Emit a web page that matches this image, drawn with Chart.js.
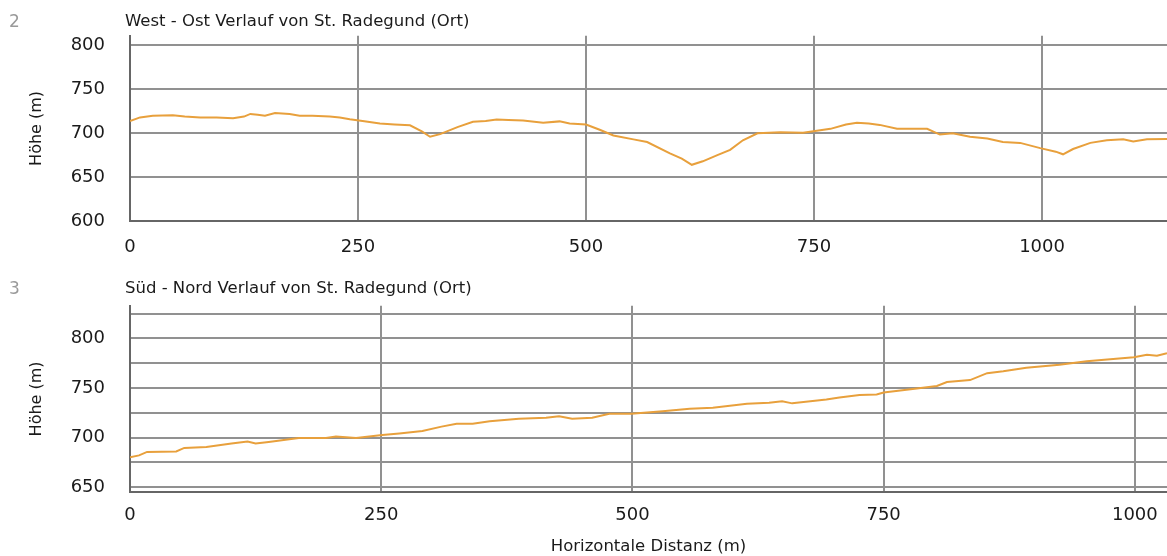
<!DOCTYPE html>
<html>
<head>
<meta charset="utf-8">
<script src="https://cdn.jsdelivr.net/npm/chart.js@4.4.1/dist/chart.umd.min.js"></script>
<style>
  body { margin: 0; background: #fff; font-family: "DejaVu Sans", sans-serif; }
  .box { position: absolute; left: 0; width: 1167px; }
  .num { position: absolute; left: 9px; font-size: 17px; color: #9a9a9a; }
  .ttl { position: absolute; left: 125px; font-size: 16.5px; color: #1a1a1a; }
</style>
</head>
<body>
<div class="box" style="top:0;height:270px">
  <canvas id="chart1" width="1167" height="270"></canvas>
</div>
<div class="box" style="top:270px;height:287px">
  <canvas id="chart2" width="1167" height="287"></canvas>
</div>
<div class="num" style="top:11px">2</div>
<div class="ttl" style="top:11px">West - Ost Verlauf von St. Radegund (Ort)</div>
<div class="num" style="top:278px">3</div>
<div class="ttl" style="top:278px">Süd - Nord Verlauf von St. Radegund (Ort)</div>

<script>
// x axis tick labels (m)
var xTicks = [0, 250, 500, 750, 1000];

// West - Ost profile (distance in m, height in m)
var westOstDist = [0, 11, 25, 47, 60, 77, 95, 113, 125, 132, 140, 148, 159, 175, 186, 200, 219, 230, 241, 255,
    274, 290, 307, 320, 329, 340, 359, 376, 390, 402, 415, 431, 453, 471, 482, 500, 515, 530, 552, 567,
    592, 605, 616, 628, 644, 658, 672, 688, 713, 738, 768, 785, 797, 810, 822, 841, 860, 874, 888, 902,
    921, 940, 957, 976, 998, 1015, 1023, 1034, 1053, 1071, 1089, 1100, 1115, 1137];
var westOstHeight = [714, 718, 720, 720.5, 719, 718, 718, 717, 719, 722, 721, 720, 723, 722, 720, 720, 719, 718, 716, 714,
    711, 710, 709, 702, 696, 699, 707, 713, 714, 715.5, 715, 714.5, 712, 713.5, 711, 710, 704, 697.5, 693, 690,
    677, 671, 664, 668, 675, 681, 692, 700, 701, 700.5, 705, 710, 712, 711, 709.5, 705, 705, 705, 698.5, 700,
    696, 694, 690, 689, 683, 679, 676, 682, 689, 692, 693, 690.5, 693, 693.5];

// Süd - Nord profile
var suedNordDist = [0, 9, 17, 46, 54, 76, 101, 117, 125, 138, 168, 195, 205, 225, 251, 268, 291, 310, 325, 341,
    358, 387, 414, 427, 440, 460, 477, 499, 530, 557, 580, 614, 636, 649, 659, 693, 706, 726, 743, 750,
    779, 803, 813, 836, 853, 869, 892, 925, 952, 999, 1012, 1022, 1032];
var suedNordHeight = [680, 682, 685.5, 686, 689.5, 690.5, 694, 696, 694, 695.5, 699.5, 699.5, 701, 699.5, 702.5, 704, 706.5, 711, 714, 714,
    716.5, 719, 720, 721.5, 719, 720, 724, 724, 726.5, 729, 730, 734, 735, 736.5, 734.5, 738.5, 740.5, 743, 743.5, 745.5,
    749, 752, 756, 758, 765, 767, 770.5, 773.5, 777, 781, 783.5, 782.5, 785];

var lineColor = '#E8A03C';
var gridColor = '#919191';
var axisColor = '#666';
var textColor = '#1a1a1a';
var fontFam = 'DejaVu Sans';

function toPoints(xs, ys) {
    return xs.map((x, i) => ({x: x, y: ys[i]}));
}

function makeChart(id, dist, heights, yMin, yMax, xMax, xAxisHeight, xTickPad, xTitle) {
    const ctx = document.getElementById(id).getContext('2d');
    return new Chart(ctx, {
        type: 'line',
        data: {
            datasets: [{
                data: toPoints(dist, heights),
                borderColor: lineColor,
                borderWidth: 2,
                pointRadius: 0,
                tension: 0,
                fill: false
            }]
        },
        options: {
            responsive: false,
            animation: false,
            layout: { padding: { top: 32, right: 0, bottom: 0, left: 0 } },
            plugins: {
                legend: { display: false },
                tooltip: { enabled: false }
            },
            scales: {
                x: {
                    type: 'linear',
                    min: 0,
                    max: xMax,
                    afterBuildTicks: (scale) => { scale.ticks = xTicks.map(v => ({value: v})); },
                    afterFit: (scale) => {
                        scale.height = xAxisHeight;
                        scale.paddingRight = 0;
                    },
                    ticks: {
                        autoSkip: false,
                        maxRotation: 0,
                        padding: xTickPad,
                        color: textColor,
                        font: { family: fontFam, size: 18 },
                        callback: (v) => String(v)
                    },
                    grid: { color: gridColor, lineWidth: 2, drawTicks: false },
                    border: { display: true, color: axisColor, width: 2 },
                    title: {
                        display: !!xTitle,
                        text: xTitle,
                        color: textColor,
                        font: { family: fontFam, size: 16.5 },
                        padding: { top: 0, bottom: 0 }
                    }
                },
                y: {
                    min: yMin,
                    max: yMax,
                    afterFit: (scale) => { scale.width = 130; },
                    ticks: {
                        stepSize: 25,
                        includeBounds: false,
                        padding: 25,
                        color: textColor,
                        font: { family: fontFam, size: 18 },
                        callback: (v) => (v % 50 === 0 ? String(v) : '')
                    },
                    grid: { color: gridColor, lineWidth: 2, drawTicks: false },
                    border: { display: true, color: axisColor, width: 2 },
                    title: {
                        display: true,
                        text: 'Höhe (m)',
                        color: textColor,
                        font: { family: fontFam, size: 16 },
                        padding: { top: 27, bottom: 0 }
                    }
                }
            }
        }
    });
}

makeChart('chart1', westOstDist, westOstHeight, 600, 811, 1137, 49, 16, '');
makeChart('chart2', suedNordDist, suedNordHeight, 645, 833, 1032, 65, 13, 'Horizontale Distanz (m)');
</script>
</body>
</html>
